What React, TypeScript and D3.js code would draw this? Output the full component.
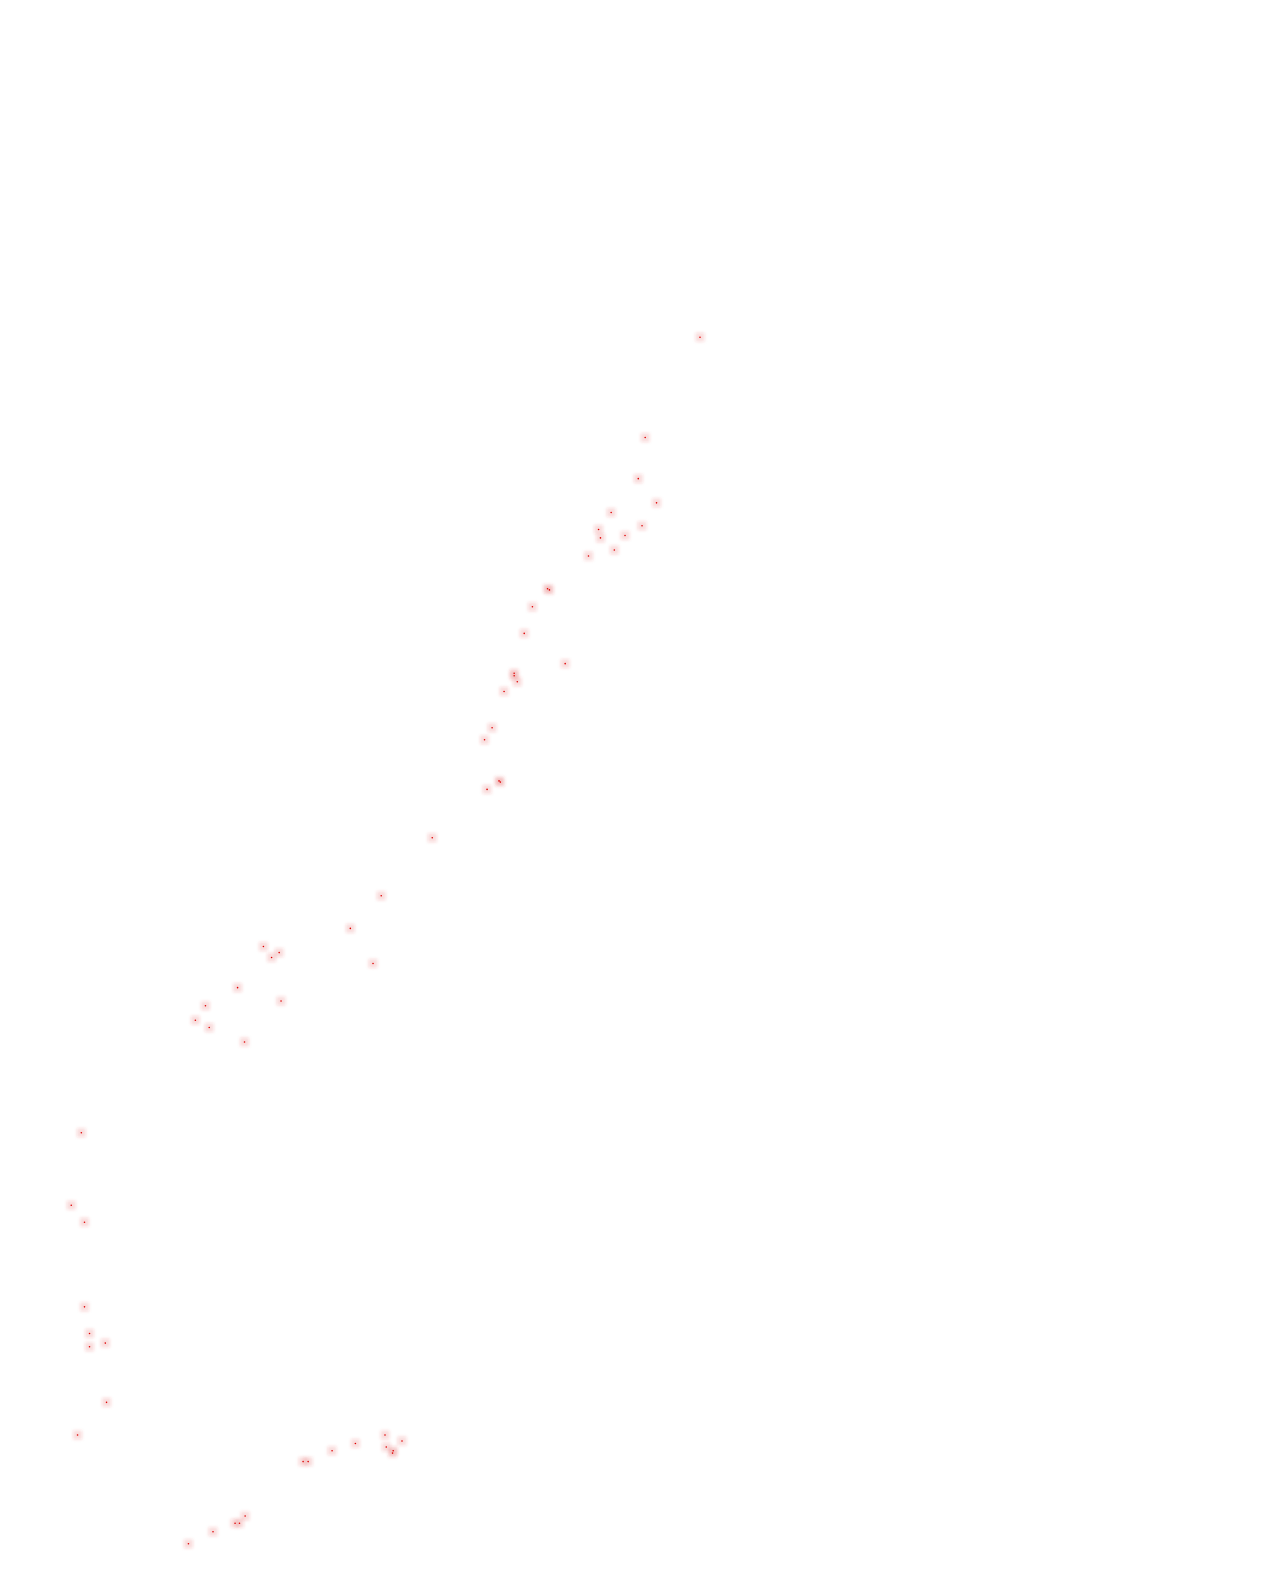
import React from "react";
import * as d3 from "d3";

const xValues: number[] = [
  100.0, 91.3, 90.2, 93.1, 85.9, 83.9, 84.2, 90.8, 88.1, 86.4,
  82.3, 75.8, 76.1, 73.4, 72.1, 78.6, 70.5, 70.5, 71.0, 68.9,
  67.0, 65.8, 68.1, 68.3, 66.2, 57.5, 49.4, 44.5, 48.1, 30.7,
  33.2, 32.0, 26.6, 33.5, 21.5, 19.9, 22.1, 27.7, 1.8, 0.2,
  2.3, 2.3, 3.1, 3.1, 5.6, 5.8, 1.2, 50.0, 52.7, 50.2,
  51.3, 51.2, 45.3, 41.6, 37.0, 37.8, 27.8, 26.2, 26.9, 22.7,
  18.8,
];

const yValues: number[] = [
  99.9, 91.6, 88.2, 86.2, 85.4, 84.0, 83.3, 84.3, 83.5, 82.3,
  81.8, 79.1, 79.0, 77.6, 75.4, 72.9, 72.1, 71.9, 71.4, 70.6,
  67.6, 66.6, 63.2, 63.1, 62.5, 58.5, 53.7, 51.0, 48.1, 49.5,
  49.0, 48.6, 46.1, 45.0, 44.6, 43.4, 42.8, 41.6, 34.1, 28.1,
  26.7, 19.7, 17.5, 16.4, 16.7, 11.8, 9.1, 9.1, 8.6, 8.1,
  7.8, 7.6, 8.4, 7.8, 6.9, 6.9, 2.4, 1.8, 1.8, 1.1,
  0.1,
];

const WIDTH = 1277;
const HEIGHT = 1580;

export default function App() {
  const x = d3.scaleLinear().domain([0, 100]).range([70, 700]);
  const y = d3.scaleLinear().domain([0, 100]).range([1545, 336]);
  const points = xValues.map((v, i) => ({ x: v, y: yValues[i] }));
  const half = 4.5;

  return (
    <svg
      width={WIDTH}
      height={HEIGHT}
      style={{ position: "absolute", left: 0, top: 0, display: "block", background: "#ffffff" }}
    >
      <defs>
        <filter id="soft" x="-1" y="-1" width="3" height="3">
          <feGaussianBlur stdDeviation={1.6} />
        </filter>
      </defs>
      <g filter="url(#soft)">
        {points.map((p, i) => (
          <rect
            key={"h" + i}
            x={x(p.x) - half}
            y={y(p.y) - half}
            width={half * 2}
            height={half * 2}
            fill="#d83030"
            fillOpacity={0.16}
          />
        ))}
      </g>
      <g>
        {points.map((p, i) => (
          <circle key={"c" + i} cx={x(p.x)} cy={y(p.y)} r={0.8} fill="#dd0000" />
        ))}
      </g>
    </svg>
  );
}
